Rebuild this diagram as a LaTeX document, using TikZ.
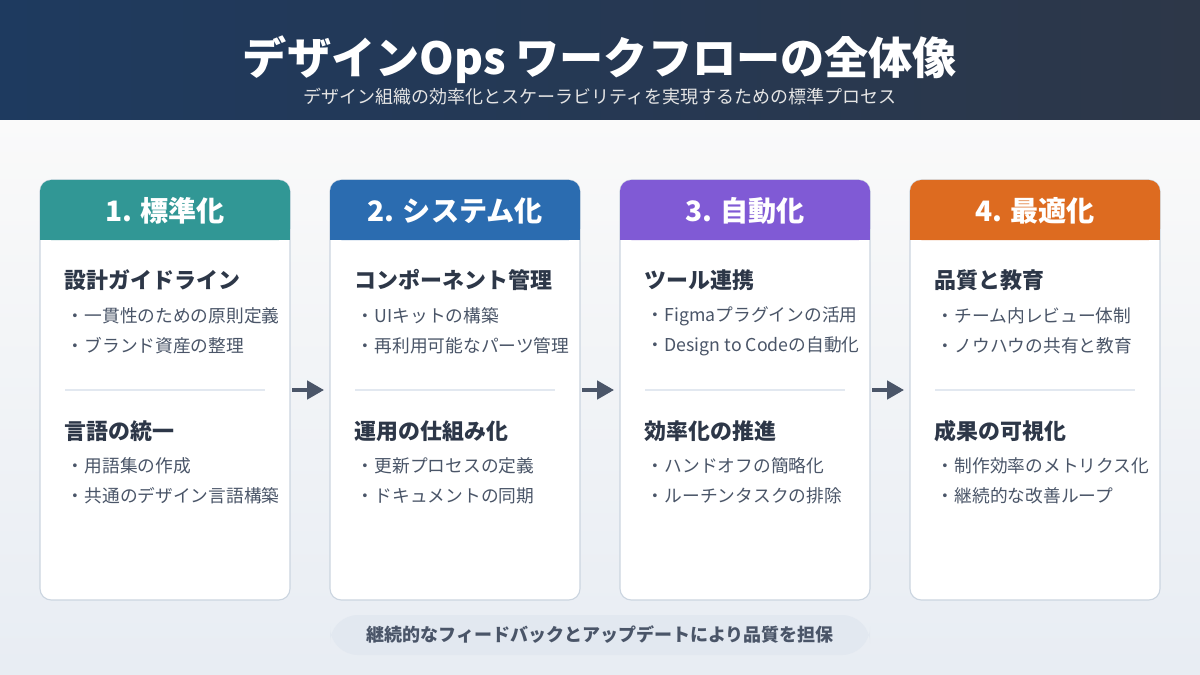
\documentclass[tikz,border=0pt]{standalone}
\usepackage{fontspec}
\setmainfont{Noto Sans CJK JP}
\usetikzlibrary{arrows.meta}
\definecolor{hdA}{HTML}{1E3A5F}\definecolor{hdB}{HTML}{2D3748}
\definecolor{cT}{HTML}{319795}\definecolor{cB}{HTML}{2B6CB0}
\definecolor{cP}{HTML}{805AD5}\definecolor{cO}{HTML}{DD6B20}
\definecolor{txt}{HTML}{2D3748}\definecolor{sub}{HTML}{4A5568}
\definecolor{bord}{HTML}{CBD5E0}\definecolor{pill}{HTML}{E2E8F0}
\begin{document}
\begin{tikzpicture}[x=0.025cm,y=-0.025cm,
 card/.style={draw=bord,line width=0.8pt,fill=white,rounded corners=8},
 head/.style={font=\fontsize{20}{24}\selectfont\bfseries,text=white},
 sec/.style={anchor=west,font=\fontsize{15.6}{18}\selectfont\bfseries,text=txt},
 item/.style={anchor=west,font=\fontsize{12.6}{15}\selectfont,text=sub},
 arr/.style={-{Triangle[length=12pt,width=13pt]},line width=2.5pt,draw=sub}]
\useasboundingbox (0,0) rectangle (1200,675);
\shade[top color=white!96!gray,bottom color=pill!80!white] (0,120) rectangle (1200,675);
\shade[left color=hdA,right color=hdB] (0,0) rectangle (1200,120);
\node[text=white,font=\fontsize{31.4}{36}\selectfont\bfseries] (title) at (600,60) {デザインOps ワークフローの全体像};
\node[text=white!80!gray,font=\fontsize{12.8}{15}\selectfont] (subt) at (600,97) {デザイン組織の効率化とスケーラビリティを実現するための標準プロセス};
\foreach \i/\x/\c/\h/\sa/\aa/\ab/\sb/\ba/\bb in {
 1/40/cT/{1. 標準化}/{設計ガイドライン}/{一貫性のための原則定義}/{ブランド資産の整理}/{言語の統一}/{用語集の作成}/{共通のデザイン言語構築},
 2/330/cB/{2. システム化}/{コンポーネント管理}/{UIキットの構築}/{再利用可能なパーツ管理}/{運用の仕組み化}/{更新プロセスの定義}/{ドキュメントの同期},
 3/620/cP/{3. 自動化}/{ツール連携}/{Figmaプラグインの活用}/{Design to Codeの自動化}/{効率化の推進}/{ハンドオフの簡略化}/{ルーチンタスクの排除},
 4/910/cO/{4. 最適化}/{品質と教育}/{チーム内レビュー体制}/{ノウハウの共有と教育}/{成果の可視化}/{制作効率のメトリクス化}/{継続的な改善ループ}}{
 \draw[card] (\x,180) rectangle (\x+250,600);
 \fill[\c,rounded corners=8] (\x,180) rectangle (\x+250,240);
 \fill[\c] (\x,220) rectangle (\x+250,240);
 \node[head] (h\i) at (\x+125,211) {\h};
 \node[sec] (sa\i) at (\x+20,280) {\sa};
 \node[item] (aa\i) at (\x+22,316) {・\aa};
 \node[item] (ab\i) at (\x+22,346) {・\ab};
 \draw[pill,line width=1pt] (\x+25,390) -- (\x+225,390);
 \node[sec] (sb\i) at (\x+20,431) {\sb};
 \node[item] (ba\i) at (\x+22,466) {・\ba};
 \node[item] (bb\i) at (\x+22,496) {・\bb};
 \coordinate (L\i) at (\x-38,390);
 \coordinate (R\i) at (\x-6,390);
}
\foreach \i in {2,3,4}{\draw[arr] (L\i) -- (R\i);}
\fill[pill,rounded corners=20] (330,615) rectangle (870,655);
\node[text=sub,font=\fontsize{12.8}{15}\selectfont\bfseries] (note) at (600,635) {継続的なフィードバックとアップデートにより品質を担保};
\end{tikzpicture}
\end{document}
